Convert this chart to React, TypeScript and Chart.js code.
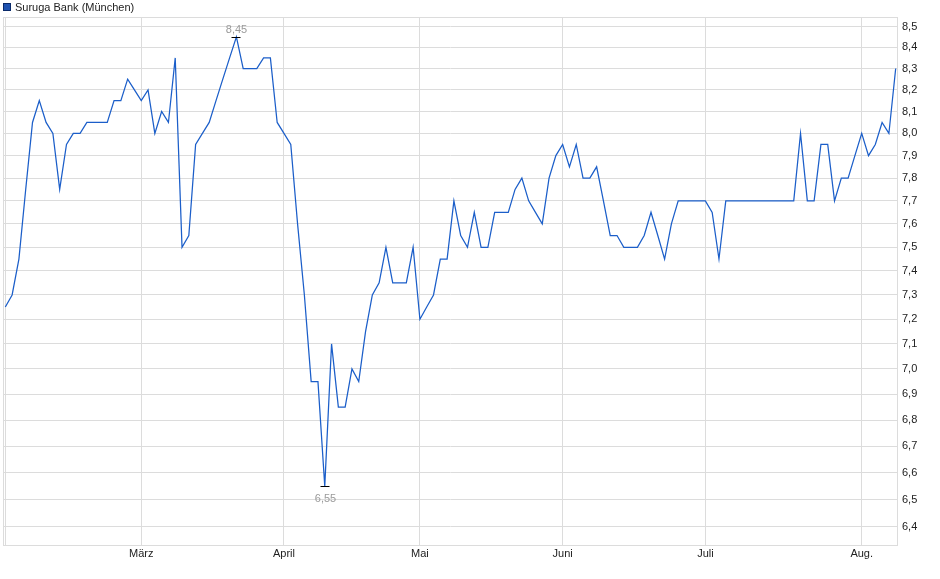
import React, { useEffect, useRef } from 'react';
import { Chart, registerables, ChartConfiguration, Plugin } from 'chart.js';

Chart.register(...registerables);

const seriesName = 'Suruga Bank (München)';

// closing prices, one per trading day (early Feb. to early Aug.)
const closes: number[] = [
  7.25, 7.3, 7.45, 7.75, 8.05, 8.15, 8.05, 8.0, 7.75, 7.95,
  8.0, 8.0, 8.05, 8.05, 8.05, 8.05, 8.15, 8.15, 8.25, 8.2,
  8.15, 8.2, 8.0, 8.1, 8.05, 8.35, 7.5, 7.55, 7.95, 8.0,
  8.05, 8.15, 8.25, 8.35, 8.45, 8.3, 8.3, 8.3, 8.35, 8.35,
  8.05, 8.0, 7.95, 7.6, 7.3, 6.95, 6.95, 6.55, 7.1, 6.85,
  6.85, 7.0, 6.95, 7.15, 7.3, 7.35, 7.5, 7.35, 7.35, 7.35,
  7.5, 7.2, 7.25, 7.3, 7.45, 7.45, 7.7, 7.55, 7.5, 7.65,
  7.5, 7.5, 7.65, 7.65, 7.65, 7.75, 7.8, 7.7, 7.65, 7.6,
  7.8, 7.9, 7.95, 7.85, 7.95, 7.8, 7.8, 7.85, 7.7, 7.55,
  7.55, 7.5, 7.5, 7.5, 7.55, 7.65, 7.55, 7.45, 7.6, 7.7,
  7.7, 7.7, 7.7, 7.7, 7.65, 7.45, 7.7, 7.7, 7.7, 7.7,
  7.7, 7.7, 7.7, 7.7, 7.7, 7.7, 7.7, 8.0, 7.7, 7.7,
  7.95, 7.95, 7.7, 7.8, 7.8, 7.9, 8.0, 7.9, 7.95, 8.05,
  8.0, 8.3,
];

// index of the first trading day of each month
const monthStarts = [0, 20, 41, 61, 82, 103, 126];
const monthLabels = ['Feb.', 'März', 'April', 'Mai', 'Juni', 'Juli', 'Aug.'];

const yTicks = [
  6.4, 6.5, 6.6, 6.7, 6.8, 6.9, 7.0, 7.1, 7.2, 7.3, 7.4,
  7.5, 7.6, 7.7, 7.8, 7.9, 8.0, 8.1, 8.2, 8.3, 8.4, 8.5,
];

const FONT = '"Liberation Sans", Arial, sans-serif';
const GRID = '#dcdcdc';
const LINE = '#1b5ec9';

const fmt = (v: number, d: number) => v.toFixed(d).replace('.', ',');

// grey frame round the plot area
const framePlugin: Plugin<'line'> = {
  id: 'frame',
  beforeDatasetsDraw(chart) {
    const { ctx, chartArea: a } = chart;
    ctx.save();
    ctx.strokeStyle = GRID;
    ctx.lineWidth = 1;
    ctx.strokeRect(Math.round(a.left) + 0.5, Math.round(a.top) + 0.5,
      Math.round(a.right - a.left) - 1, Math.round(a.bottom - a.top));
    ctx.restore();
  },
};

// small legend in the top left corner
const legendPlugin: Plugin<'line'> = {
  id: 'cornerLegend',
  afterDraw(chart) {
    const { ctx } = chart;
    ctx.save();
    ctx.fillStyle = '#1f52b0';
    ctx.fillRect(3, 3, 8, 8);
    ctx.strokeStyle = '#0a2a6a';
    ctx.lineWidth = 1;
    ctx.strokeRect(3.5, 3.5, 7, 7);
    ctx.fillStyle = '#222';
    ctx.font = `11px ${FONT}`;
    ctx.textAlign = 'left';
    ctx.textBaseline = 'alphabetic';
    ctx.fillText(String(chart.data.datasets[0].label), 15, 11);
    ctx.restore();
  },
};

// high / low markers
const extremesPlugin: Plugin<'line'> = {
  id: 'extremes',
  afterDatasetsDraw(chart) {
    const { ctx } = chart;
    const x = chart.scales.x;
    const y = chart.scales.y;
    const hi = closes.indexOf(Math.max(...closes));
    const lo = closes.indexOf(Math.min(...closes));
    ctx.save();
    ctx.font = `11px ${FONT}`;
    ctx.textAlign = 'center';
    ctx.textBaseline = 'alphabetic';
    ([[hi, -5], [lo, 15]] as [number, number][]).forEach(([i, dy]) => {
      const px = Math.round(x.getPixelForValue(i));
      const py = Math.round(y.getPixelForValue(closes[i])) + 0.5;
      ctx.strokeStyle = '#000';
      ctx.lineWidth = 1;
      ctx.beginPath();
      ctx.moveTo(px - 4.5, py);
      ctx.lineTo(px + 4.5, py);
      ctx.stroke();
      ctx.fillStyle = '#9a9a9a';
      ctx.fillText(fmt(closes[i], 2), px + 0.5, Math.round(py + dy));
    });
    ctx.restore();
  },
};

const PriceChart = () => {
  const chartRef = useRef<HTMLCanvasElement | null>(null);
  const chartInstance = useRef<Chart | null>(null);

  useEffect(() => {
    if (chartInstance.current) {
      chartInstance.current.destroy();
    }
    if (!chartRef.current) return;
    const ctx = chartRef.current.getContext('2d');
    if (!ctx) return;

    const config: ChartConfiguration<'line', { x: number; y: number }[], number> = {
      type: 'line',
      data: {
        datasets: [
          {
            label: seriesName,
            data: closes.map((v, i) => ({ x: i, y: v })),
            borderColor: LINE,
            borderWidth: 1.25,
            pointRadius: 0,
            tension: 0,
            fill: false,
          },
        ],
      },
      options: {
        responsive: true,
        maintainAspectRatio: false,
        animation: false,
        layout: { padding: { top: 17, left: 3, right: 0, bottom: 0 } },
        plugins: {
          legend: { display: false },
          tooltip: { enabled: false },
        },
        scales: {
          x: {
            type: 'linear',
            bounds: 'data',
            min: -0.34,
            max: closes.length - 1 + 0.34,
            afterBuildTicks: (s) => {
              s.ticks = monthStarts.map((v) => ({ value: v }));
            },
            afterFit: (s) => {
              s.height = 34;
            },
            grid: { color: GRID, drawTicks: false },
            border: { display: false },
            ticks: {
              autoSkip: false,
              maxRotation: 0,
              padding: 2,
              color: '#222',
              font: { family: FONT, size: 11 },
              // first gridline sits on the left edge, no room for its label
              callback: (_v, i) => (i > 0 ? monthLabels[i] : ''),
            },
          },
          y: {
            type: 'logarithmic',
            position: 'right',
            bounds: 'data',
            min: 6.335,
            max: 8.546,
            afterBuildTicks: (s) => {
              s.ticks = yTicks.map((v) => ({ value: v }));
            },
            afterFit: (s) => {
              s.width = 42;
            },
            grid: { color: GRID, drawTicks: false },
            border: { display: false },
            ticks: {
              autoSkip: false,
              padding: 4,
              color: '#222',
              font: { family: FONT, size: 11 },
              callback: (v) => fmt(Number(v), 1),
            },
          },
        },
      },
      plugins: [framePlugin, extremesPlugin, legendPlugin],
    };

    chartInstance.current = new Chart(ctx, config);

    return () => {
      if (chartInstance.current) {
        chartInstance.current.destroy();
        chartInstance.current = null;
      }
    };
  }, []);

  return (
    <div style={{ position: 'fixed', left: 0, top: 0, width: 940, height: 579, background: '#fff' }}>
      <canvas ref={chartRef} />
    </div>
  );
};

export default function App() {
  return <PriceChart />;
}
